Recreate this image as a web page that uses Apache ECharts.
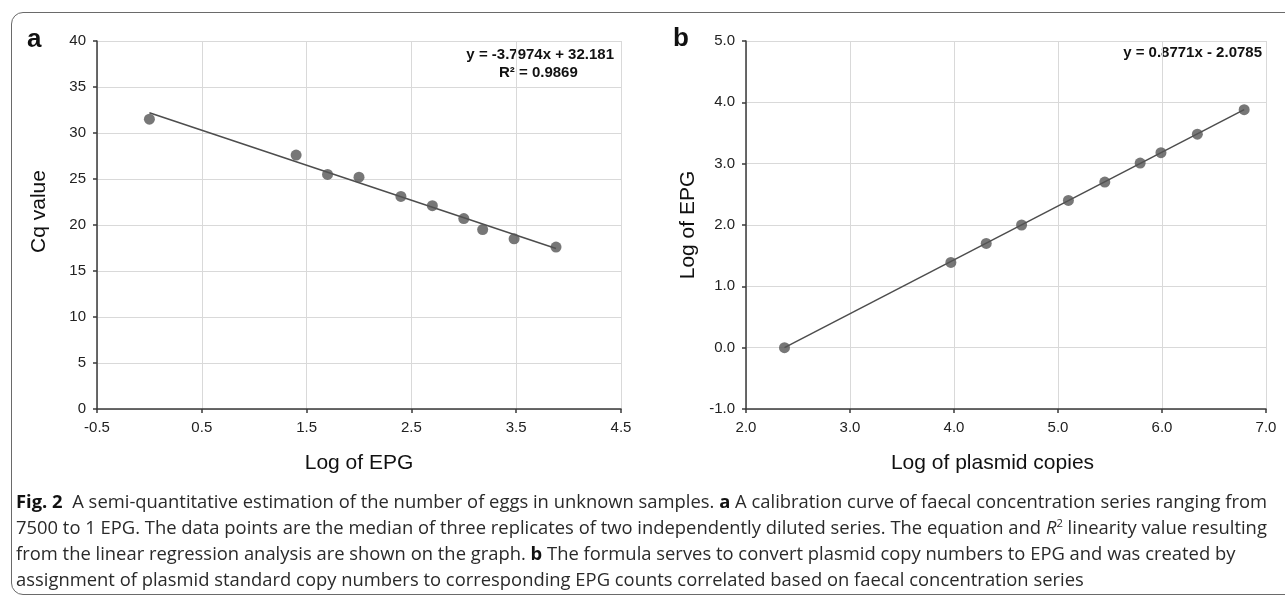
<!DOCTYPE html>
<html>
<head>
<meta charset="utf-8">
<script src="https://cdn.jsdelivr.net/npm/echarts@6/dist/echarts.min.js"></script>
<style>
  html, body { margin: 0; padding: 0; background: #fff; }
  #wrap { position: relative; width: 1285px; height: 599px; overflow: hidden; }
  #frame { position: absolute; left: 11px; top: 12px; width: 1320px; height: 581px;
           border: 1px solid #6a6a6a; border-radius: 12px; }
  #chart { position: absolute; left: 0; top: 0; width: 1285px; height: 599px; }
  #cap { position: absolute; left: 16px; top: 488px; font-family: "Open Sans", "Noto Sans", sans-serif;
         font-size: 18px; line-height: 26px; color: #2a2a2a; transform-origin: 0 0; white-space: nowrap; }
  #cap .ln { display: block; }
  #cap b { color: #111; }
  #cap sup { font-size: 11px; line-height: 0; vertical-align: 7px; }
</style>
</head>
<body>
<div id="wrap">
  <div id="frame"></div>
  <div id="chart"></div>
  <div id="cap">
    <span class="ln" id="ln1"><b>Fig. 2</b>&nbsp; A semi-quantitative estimation of the number of eggs in unknown samples. <b>a</b> A calibration curve of faecal concentration series ranging from</span>
    <span class="ln">7500 to 1 EPG. The data points are the median of three replicates of two independently diluted series. The equation and <i>R</i><sup>2</sup> linearity value resulting</span>
    <span class="ln">from the linear regression analysis are shown on the graph. <b>b</b> The formula serves to convert plasmid copy numbers to EPG and was created by</span>
    <span class="ln">assignment of plasmid standard copy numbers to corresponding EPG counts correlated based on faecal concentration series</span>
  </div>
</div>
<script>
// panel a: Cq against log EPG
var logEpgA = [0, 1.4, 1.7, 2.0, 2.4, 2.7, 3.0, 3.18, 3.48, 3.88];
var cqA = [31.5, 27.6, 25.5, 25.2, 23.1, 22.1, 20.7, 19.5, 18.5, 17.6];
var trendAx = [0, 3.88];
var trendAy = [32.2, 17.45];

// panel b: log EPG against log plasmid copies
var logPlasmidB = [2.37, 3.97, 4.31, 4.65, 5.10, 5.45, 5.79, 5.99, 6.34, 6.79];
var logEpgB = [0, 1.39, 1.70, 2.00, 2.40, 2.70, 3.01, 3.18, 3.48, 3.88];
var trendBx = [2.37, 6.79];
var trendBy = [0, 3.88];

var eqA = 'y = -3.7974x + 32.181';
var r2A = 'R² = 0.9869';
var eqB = 'y = 0.8771x - 2.0785';

function pairs(xs, ys) {
  var out = [];
  for (var i = 0; i < xs.length; i++) out.push([xs[i], ys[i]]);
  return out;
}

var font = '"Liberation Sans", Arial, sans-serif';
var dotColor = '#555555';

function valueAxis(idx, min, max, step, fmt, extra) {
  var ax = {
    type: 'value', gridIndex: idx, min: min, max: max, interval: step,
    axisLine: { show: true, onZero: false, lineStyle: { color: '#3a3a3a', width: 1.5 } },
    axisTick: { show: true, length: 4, lineStyle: { color: '#3a3a3a', width: 1.5 } },
    axisLabel: { color: '#222', fontSize: 15, fontFamily: font, margin: 11, formatter: fmt },
    splitLine: { show: true, lineStyle: { color: '#d9d9d9', width: 1 } },
    nameLocation: 'middle',
    nameTextStyle: { color: '#111', fontSize: 21, fontFamily: font }
  };
  for (var k in extra) ax[k] = extra[k];
  return ax;
}

var fix1 = function (v) { return v.toFixed(1); };

var option = {
  animation: false,
  grid: [
    { left: 97, right: 664, top: 41, bottom: 190 },
    { left: 746, right: 19, top: 41, bottom: 190 }
  ],
  xAxis: [
    valueAxis(0, -0.5, 4.5, 1, null, { name: 'Log of EPG', nameGap: 44 }),
    valueAxis(1, 2, 7, 1, fix1, { name: 'Log of plasmid copies', nameGap: 44,
      nameTextStyle: { color: '#111', fontSize: 21, fontFamily: font, padding: [0, 27, 0, 0] } })
  ],
  yAxis: [
    valueAxis(0, 0, 40, 5, null, { name: 'Cq value', nameGap: 47,
      nameTextStyle: { color: '#111', fontSize: 21, fontFamily: font, padding: [0, 0, 0, 27] } }),
    valueAxis(1, -1, 5, 1, fix1, { name: 'Log of EPG', nameGap: 47 })
  ],
  series: [
    {
      type: 'line', xAxisIndex: 0, yAxisIndex: 0, data: pairs(trendAx, trendAy),
      symbol: 'none', lineStyle: { color: '#4d4d4d', width: 1.5 }, z: 2
    },
    {
      type: 'scatter', xAxisIndex: 0, yAxisIndex: 0, data: pairs(logEpgA, cqA),
      symbolSize: 11, itemStyle: { color: dotColor }, z: 3
    },
    {
      type: 'line', xAxisIndex: 1, yAxisIndex: 1, data: pairs(trendBx, trendBy),
      symbol: 'none', lineStyle: { color: '#4d4d4d', width: 1.5 }, z: 2
    },
    {
      type: 'scatter', xAxisIndex: 1, yAxisIndex: 1, data: pairs(logPlasmidB, logEpgB),
      symbolSize: 11, itemStyle: { color: dotColor }, z: 3
    }
  ],
  graphic: [
    { type: 'text', left: 27, top: 27, style: { text: 'a', fontSize: 26, fontWeight: 'bold', fontFamily: font, fill: '#111' } },
    { type: 'text', left: 673, top: 26, style: { text: 'b', fontSize: 26, fontWeight: 'bold', fontFamily: font, fill: '#111' } },
    { type: 'text', right: 671, top: 47, style: { text: eqA, fontSize: 15, fontWeight: 'bold', fontFamily: font, fill: '#111' } },
    { type: 'text', left: 499, top: 65, style: { text: r2A, fontSize: 15, fontWeight: 'bold', fontFamily: font, fill: '#111' } },
    { type: 'text', right: 23, top: 45, style: { text: eqB, fontSize: 15, fontWeight: 'bold', fontFamily: font, fill: '#111' } }
  ]
};

var chart = echarts.init(document.getElementById('chart'));
chart.setOption(option);

// squeeze the caption so its first line spans the same width as in the figure
var ln1 = document.getElementById('ln1');
ln1.style.display = 'inline-block';
var w = ln1.getBoundingClientRect().width;
ln1.style.display = 'block';
document.getElementById('cap').style.transform = 'scaleX(' + (1251 / w) + ')';
</script>
</body>
</html>
